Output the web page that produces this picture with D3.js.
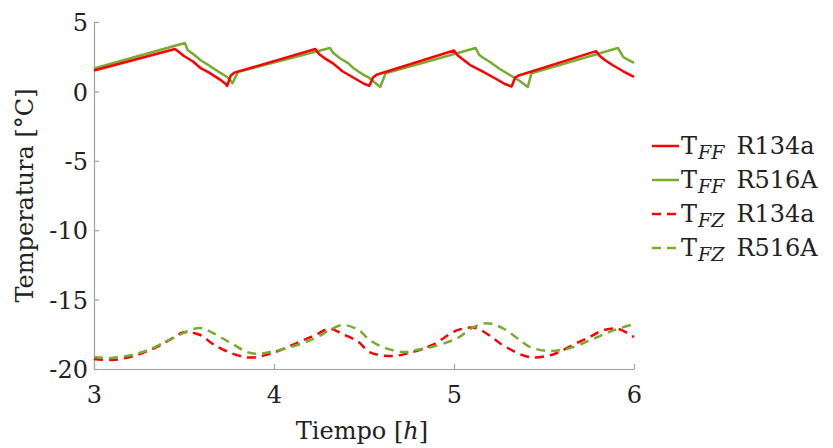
<!DOCTYPE html>
<html>
<head>
<meta charset="utf-8">
<script src="https://cdn.jsdelivr.net/npm/d3@7"></script>
<style>
  body { margin: 0; background: #fff; }
</style>
</head>
<body>
<script>
// Refrigerator (FF) and freezer (FZ) temperatures, hours 3..6
var redFF_t = [3.00, 3.45, 3.47, 3.50, 3.55, 3.59, 3.64, 3.70, 3.73, 3.74, 3.76, 3.78, 4.23, 4.25, 4.28, 4.33, 4.38, 4.44, 4.50, 4.53, 4.55, 4.57, 5.00, 5.02, 5.05, 5.09, 5.15, 5.22, 5.28, 5.32, 5.34, 5.36, 5.79, 5.81, 5.84, 5.88, 5.94, 6.00];
var redFF_v = [1.50, 3.05, 2.85, 2.55, 2.15, 1.70, 1.35, 0.85, 0.55, 0.40, 1.15, 1.35, 3.05, 2.70, 2.40, 2.00, 1.45, 1.00, 0.55, 0.40, 1.00, 1.20, 2.95, 2.60, 2.30, 1.90, 1.50, 1.00, 0.55, 0.35, 1.00, 1.15, 2.90, 2.55, 2.25, 1.90, 1.45, 1.05];

var greenFF_t = [3.00, 3.505, 3.52, 3.56, 3.59, 3.63, 3.66, 3.70, 3.74, 3.77, 3.80, 4.31, 4.33, 4.37, 4.41, 4.44, 4.49, 4.53, 4.59, 4.62, 5.12, 5.14, 5.17, 5.20, 5.25, 5.31, 5.36, 5.41, 5.43, 5.91, 5.94, 5.97, 6.00];
var greenFF_v = [1.65, 3.49, 2.98, 2.60, 2.26, 1.95, 1.69, 1.35, 1.04, 0.60, 1.40, 3.13, 2.77, 2.35, 2.05, 1.69, 1.25, 0.97, 0.32, 1.30, 3.13, 2.62, 2.35, 2.12, 1.65, 1.18, 0.80, 0.32, 1.30, 3.13, 2.48, 2.25, 2.05];

var redFZ_t = [3.00, 3.10, 3.20, 3.27, 3.35, 3.42, 3.50, 3.59, 3.66, 3.76, 3.87, 3.99, 4.14, 4.23, 4.31, 4.38, 4.47, 4.53, 4.65, 4.77, 4.88, 5.02, 5.12, 5.21, 5.27, 5.42, 5.55, 5.66, 5.76, 5.83, 5.91, 6.00];
var redFZ_v = [-19.28, -19.35, -19.14, -18.85, -18.40, -17.90, -17.35, -17.55, -18.20, -18.85, -19.18, -18.85, -18.05, -17.55, -17.10, -17.48, -18.05, -18.78, -19.07, -18.78, -18.27, -17.20, -17.05, -17.70, -18.27, -19.14, -18.95, -18.27, -17.65, -17.20, -17.10, -17.70];

var greenFZ_t = [3.00, 3.10, 3.27, 3.42, 3.52, 3.59, 3.66, 3.76, 3.87, 3.98, 4.16, 4.24, 4.31, 4.38, 4.47, 4.53, 4.62, 4.72, 4.79, 4.88, 5.02, 5.10, 5.18, 5.27, 5.35, 5.42, 5.52, 5.63, 5.76, 5.89, 6.00];
var greenFZ_v = [-19.14, -19.20, -18.78, -17.90, -17.27, -17.05, -17.40, -18.13, -18.85, -18.78, -18.13, -17.70, -17.20, -16.83, -17.20, -17.90, -18.50, -18.78, -18.63, -18.40, -17.77, -17.05, -16.70, -17.05, -17.77, -18.40, -18.70, -18.55, -17.90, -17.20, -16.76];

var xTicks = [3, 4, 5, 6];
var yTicks = [5, 0, -5, -10, -15, -20];

var seriesNames = ["FF", "FF", "FZ", "FZ"];
var seriesGas = ["R134a", "R516A", "R134a", "R516A"];

var FONT = "'DejaVu Serif', 'Liberation Serif', serif";

function main(){
    var width = 833, height = 448;
    var left = 94, right = 634, top = 22, bottom = 369;

    var svg = d3.select("body").append("svg")
        .attr("width", width)
        .attr("height", height);

    var x = d3.scaleLinear().domain([3, 6]).range([left, right]);
    var y = d3.scaleLinear().domain([-20, 5]).range([bottom, top]);

    var red = "#ff0000", green = "#77ac30";
    var fmt = function(d){ return String(d); };  // plain hyphen, like the original

    // axes (inward ticks, no box)
    var xAxis = svg.append("g")
        .attr("transform", "translate(0," + bottom + ")")
        .call(d3.axisBottom(x).tickValues(xTicks).tickFormat(fmt).tickSize(-5).tickSizeOuter(0));
    var yAxis = svg.append("g")
        .attr("transform", "translate(" + left + ",0)")
        .call(d3.axisLeft(y).tickValues(yTicks).tickFormat(fmt).tickSize(-5).tickPadding(6).tickSizeOuter(0));

    [xAxis, yAxis].forEach(function(a){
        a.select(".domain").attr("stroke", "#a0a0a0").attr("stroke-width", 1.2);
        a.selectAll(".tick line").attr("stroke", "#a0a0a0").attr("stroke-width", 1.2);
        a.selectAll(".tick text")
            .style("font-family", FONT)
            .style("font-size", "24px")
            .attr("fill", "#222");
    });
    xAxis.selectAll(".tick text").attr("y", 34).attr("dy", 0);
    yAxis.selectAll(".tick text").attr("dy", "0.36em");

    // axis labels
    var xl = svg.append("text")
        .attr("x", (left + right) / 2 - 2)
        .attr("y", 439)
        .attr("text-anchor", "middle")
        .style("font-family", FONT)
        .style("font-size", "24px")
        .attr("fill", "#222");
    xl.append("tspan").text("Tiempo [");
    xl.append("tspan").style("font-style", "italic").text("h");
    xl.append("tspan").text("]");

    svg.append("text")
        .attr("transform", "translate(33," + ((top + bottom) / 2) + ") rotate(-90)")
        .attr("text-anchor", "middle")
        .style("font-family", FONT)
        .style("font-size", "24px")
        .attr("fill", "#222")
        .text("Temperatura [\u00b0C]");

    function pts(t, v){ return t.map(function(d, i){ return [d, v[i]]; }); }

    var sharp = d3.line().x(function(d){ return x(d[0]); }).y(function(d){ return y(d[1]); });
    var smooth = d3.line().curve(d3.curveCatmullRom.alpha(0.5))
        .x(function(d){ return x(d[0]); }).y(function(d){ return y(d[1]); });

    var lines = [
        {d: pts(redFZ_t, redFZ_v), c: red, dash: "9,6", gen: smooth},
        {d: pts(greenFZ_t, greenFZ_v), c: green, dash: "9,6", gen: smooth},
        {d: pts(greenFF_t, greenFF_v), c: green, dash: null, gen: sharp},
        {d: pts(redFF_t, redFF_v), c: red, dash: null, gen: sharp}
    ];

    lines.forEach(function(l){
        svg.append("path")
            .attr("d", l.gen(l.d))
            .attr("fill", "none")
            .attr("stroke", l.c)
            .attr("stroke-width", 2.5)
            .attr("stroke-linejoin", "round")
            .attr("stroke-dasharray", l.dash);
    });

    // legend
    var legColors = [red, green, red, green];
    var legDash = [null, null, "9,6", "9,6"];
    var legY = d3.scalePoint().domain(d3.range(4)).range([146, 248]);

    d3.range(4).forEach(function(i){
        var ly = legY(i);
        svg.append("line")
            .attr("x1", 652).attr("x2", 679)
            .attr("y1", ly).attr("y2", ly)
            .attr("stroke", legColors[i])
            .attr("stroke-width", 2.5)
            .attr("stroke-dasharray", legDash[i]);
        var t = svg.append("text")
            .attr("x", 681)
            .attr("y", ly + 8)
            .style("font-family", FONT)
            .style("font-size", "24px")
            .attr("fill", "#222");
        t.append("tspan").text("T");
        t.append("tspan").style("font-style", "italic").style("font-size", "19px")
            .attr("dy", 5).attr("dx", 1).text(seriesNames[i]);
        t.append("tspan").attr("dy", -5).attr("dx", 12).text(seriesGas[i]);
    });
}
main();
</script>
</body>
</html>
